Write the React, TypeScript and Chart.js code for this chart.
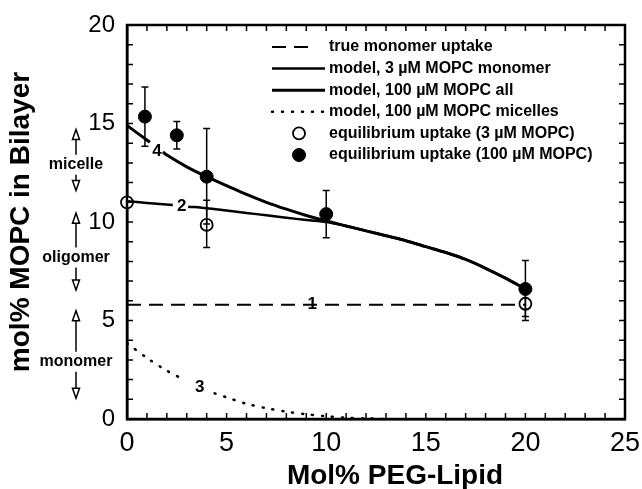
import React, { useEffect, useRef } from "react";
import { Chart, registerables } from "chart.js";

Chart.register(...registerables);

const FONT = "'Liberation Sans', Arial, Helvetica, sans-serif";

// ---- axis ticks / titles ----
const xTickValues = [0, 5, 10, 15, 20, 25];
const yTickValues = [0, 5, 10, 15, 20];
const xTitle = "Mol% PEG-Lipid";
const yTitle = "mol% MOPC in Bilayer";

// ---- curve 1: true monomer uptake (dashed) ----
const line1X = [0, 20];
const line1Y = [5.8, 5.8];

// ---- curve 2: model, 3 uM MOPC monomer ----
const line2X = [0, 1, 2.3, 2.7, 3.07, 4, 5, 6, 7, 8, 9, 10, 11, 12, 13, 14, 15, 16, 17, 18, 19, 20];
const line2Y = [11.05, 10.97, 10.86, null, 10.78, 10.7, 10.58, 10.46, 10.34, 10.22, 10.1, 10.0, 9.8, 9.55, 9.3, 9.05, 8.75, 8.45, 8.1, 7.65, 7.15, 6.6];

// ---- curve 4: model, 100 uM MOPC all ----
const line4X = [0, 1.15, 1.5, 1.8, 2, 3, 4, 5, 6, 7, 8, 9, 10, 11, 12, 13, 14, 15, 16, 17, 18, 19, 20];
const line4Y = [14.9, 14.05, null, 13.55, 13.4, 12.8, 12.3, 11.85, 11.4, 11.0, 10.65, 10.33, 10.05, 9.8, 9.55, 9.3, 9.05, 8.75, 8.45, 8.1, 7.65, 7.15, 6.6];

// ---- curve 3: model, 100 uM MOPC micelles (dotted) ----
const line3X = [0, 1, 2, 2.95, 3.6, 4.4, 5, 6, 7, 8, 9, 10, 11, 12, 13];
const line3Y = [3.85, 3.1, 2.45, 1.95, null, 1.3, 1.1, 0.77, 0.55, 0.37, 0.24, 0.14, 0.07, 0.03, 0];

// ---- equilibrium uptake (3 uM MOPC), open circles ----
const openX = [0, 4, 20];
const openY = [11.0, 9.85, 5.85];
const openLo = [11.0, 8.7, 5.0];
const openHi = [11.0, 11.1, 6.7];

// ---- equilibrium uptake (100 uM MOPC), filled circles ----
const filledX = [0.9, 2.5, 4, 10, 20];
const filledY = [15.35, 14.4, 12.3, 10.4, 6.6];
const filledLo = [13.85, 13.7, 9.9, 9.2, 5.2];
const filledHi = [16.85, 15.1, 14.75, 11.6, 8.05];

// ---- legend labels ----
const legendLabels = [
  "true monomer uptake",
  "model, 3 \u00b5M MOPC monomer",
  "model, 100 \u00b5M MOPC all",
  "model, 100 \u00b5M MOPC micelles",
  "equilibrium uptake (3 \u00b5M MOPC)",
  "equilibrium uptake (100 \u00b5M MOPC)",
];

// ---- curve number labels ----
const curveLabelText = ["1", "2", "3", "4"];
const curveLabelX = [9.3, 2.75, 3.65, 1.5];
const curveLabelY = [5.8, 10.8, 1.6, 13.6];

// ---- aggregation-state ranges on the left ----
const regionNames = ["micelle", "oligomer", "monomer"];
const regionTop = [14.7, 10.45, 5.5];
const regionBottom = [11.6, 6.55, 1.05];
const regionTextY = [12.9, 8.2, 2.9];

const pts = (xs: number[], ys: (number | null)[]) => xs.map((x, i) => ({ x, y: ys[i] }));

const decorPlugin = {
  id: "decor",
  afterDatasetsDraw(chart: any) {
    const ctx = chart.ctx;
    const xs = chart.scales.x;
    const ys = chart.scales.y;
    const area = chart.chartArea;
    ctx.save();
    ctx.strokeStyle = "#000";
    ctx.fillStyle = "#000";

    // error bars
    const drawErr = (X: number[], lo: number[], hi: number[]) => {
      ctx.lineWidth = 1.5;
      X.forEach((x, i) => {
        if (lo[i] === hi[i]) return;
        const px = xs.getPixelForValue(x);
        const p1 = ys.getPixelForValue(lo[i]);
        const p2 = ys.getPixelForValue(hi[i]);
        ctx.beginPath();
        ctx.moveTo(px, p1);
        ctx.lineTo(px, p2);
        ctx.moveTo(px - 3.5, p1);
        ctx.lineTo(px + 3.5, p1);
        ctx.moveTo(px - 3.5, p2);
        ctx.lineTo(px + 3.5, p2);
        ctx.stroke();
      });
    };
    drawErr(openX, openLo, openHi);
    drawErr(filledX, filledLo, filledHi);

    // frame
    ctx.lineWidth = 2.5;
    ctx.strokeRect(area.left, area.top, area.right - area.left, area.bottom - area.top);

    // inward ticks
    ctx.lineWidth = 1.5;
    ctx.beginPath();
    for (let v = xs.min; v <= xs.max; v += 1) {
      const px = xs.getPixelForValue(v);
      ctx.moveTo(px, area.bottom);
      ctx.lineTo(px, area.bottom - 6);
      ctx.moveTo(px, area.top);
      ctx.lineTo(px, area.top + 6);
    }
    for (let v = ys.min; v <= ys.max; v += 1) {
      const py = ys.getPixelForValue(v);
      ctx.moveTo(area.left, py);
      ctx.lineTo(area.left + 6, py);
      ctx.moveTo(area.right, py);
      ctx.lineTo(area.right - 6, py);
    }
    ctx.stroke();

    // curve number labels
    ctx.font = `bold 17px ${FONT}`;
    ctx.textAlign = "center";
    ctx.textBaseline = "middle";
    curveLabelText.forEach((t, i) => {
      ctx.fillText(t, xs.getPixelForValue(curveLabelX[i]), ys.getPixelForValue(curveLabelY[i]));
    });

    // legend
    const lx0 = 272;
    const lx1 = 325;
    const textX = 329;
    const rowTop = 47;
    const rowH = 21.6;
    ctx.textAlign = "left";
    ctx.font = `bold 16px ${FONT}`;
    legendLabels.forEach((label, i) => {
      const ds = chart.data.datasets[i];
      const y = rowTop + i * rowH;
      if (ds.showLine) {
        ctx.save();
        ctx.lineWidth = ds.borderWidth;
        ctx.setLineDash(ds.borderDash || []);
        ctx.lineCap = ds.borderCapStyle || "butt";
        ctx.beginPath();
        const end = ds.borderDash && ds.borderDash[0] > 5 ? 308 : lx1;
        ctx.moveTo(lx0, y);
        ctx.lineTo(end, y);
        ctx.stroke();
        ctx.restore();
      } else {
        ctx.save();
        ctx.beginPath();
        ctx.arc(299, y, ds.pointRadius, 0, Math.PI * 2);
        ctx.fillStyle = ds.pointBackgroundColor;
        ctx.fill();
        ctx.lineWidth = ds.pointBorderWidth;
        ctx.stroke();
        ctx.restore();
      }
      ctx.fillText(label, textX, y);
    });

    // aggregation-state annotations (outside plot, left)
    const ax = 76;
    ctx.font = `bold 16px ${FONT}`;
    ctx.textAlign = "center";
    ctx.lineWidth = 1.5;
    regionNames.forEach((name, i) => {
      const top = ys.getPixelForValue(regionTop[i]);
      const bot = ys.getPixelForValue(regionBottom[i]);
      const ty = ys.getPixelForValue(regionTextY[i]);
      ctx.fillStyle = "#000";
      ctx.fillText(name, ax, ty);
      ctx.beginPath();
      ctx.moveTo(ax, top + 10);
      ctx.lineTo(ax, ty - 10);
      ctx.moveTo(ax, ty + 10);
      ctx.lineTo(ax, bot - 10);
      ctx.stroke();
      ctx.fillStyle = "#fff";
      ctx.beginPath();
      ctx.moveTo(ax, top);
      ctx.lineTo(ax - 3.5, top + 10);
      ctx.lineTo(ax + 3.5, top + 10);
      ctx.closePath();
      ctx.fill();
      ctx.stroke();
      ctx.beginPath();
      ctx.moveTo(ax, bot);
      ctx.lineTo(ax - 3.5, bot - 10);
      ctx.lineTo(ax + 3.5, bot - 10);
      ctx.closePath();
      ctx.fill();
      ctx.stroke();
    });

    // x-axis title (slightly right of centre, as in the original)
    ctx.fillStyle = "#000";
    ctx.font = `bold 28px ${FONT}`;
    ctx.textAlign = "center";
    ctx.textBaseline = "middle";
    ctx.fillText(xTitle, (area.left + area.right) / 2 + 19, 476);
    ctx.restore();
  },
};

export default function App() {
  const ref = useRef<HTMLCanvasElement | null>(null);
  useEffect(() => {
    if (!ref.current) return;
    const lineBase = {
      showLine: true,
      pointRadius: 0,
      pointHoverRadius: 0,
      borderColor: "#000",
      backgroundColor: "#000",
      spanGaps: false,
      fill: false,
    };
    const chart = new Chart(ref.current, {
      type: "scatter",
      data: {
        datasets: [
          { ...lineBase, label: legendLabels[0], data: pts(line1X, line1Y), borderWidth: 2, borderDash: [14, 8] },
          { ...lineBase, label: legendLabels[1], data: pts(line2X, line2Y), borderWidth: 2.5, tension: 0.3 },
          { ...lineBase, label: legendLabels[2], data: pts(line4X, line4Y), borderWidth: 3, tension: 0.3 },
          { ...lineBase, label: legendLabels[3], data: pts(line3X, line3Y), borderWidth: 2.5, borderDash: [1, 9], borderCapStyle: "round", tension: 0.3 },
          {
            label: legendLabels[4], data: pts(openX, openY), showLine: false, clip: false,
            pointRadius: 6, pointBorderWidth: 1.8, pointBackgroundColor: "#fff", pointBorderColor: "#000",
          },
          {
            label: legendLabels[5], data: pts(filledX, filledY), showLine: false, clip: false,
            pointRadius: 6.5, pointBorderWidth: 1, pointBackgroundColor: "#000", pointBorderColor: "#000",
          },
        ],
      } as any,
      options: {
        responsive: false,
        animation: false,
        devicePixelRatio: 1,
        layout: { padding: { top: 25, right: 17, left: 0, bottom: 0 } },
        plugins: { legend: { display: false }, tooltip: { enabled: false } },
        scales: {
          x: {
            type: "linear",
            min: 0,
            max: 25,
            afterBuildTicks: (s: any) => { s.ticks = xTickValues.map((v) => ({ value: v })); },
            afterFit: (s: any) => { s.height = 70; s.paddingLeft = 0; s.paddingRight = 0; },
            grid: { display: false, drawTicks: false },
            border: { display: true, color: "#000", width: 2.5 },
            ticks: { color: "#000", font: { family: FONT, size: 27 }, padding: 8, maxRotation: 0 },
            title: { display: false, text: xTitle },
          },
          y: {
            type: "linear",
            min: 0,
            max: 20,
            afterBuildTicks: (s: any) => { s.ticks = yTickValues.map((v) => ({ value: v })); },
            afterFit: (s: any) => { s.width = 127; s.paddingTop = 0; s.paddingBottom = 0; },
            grid: { display: false, drawTicks: false },
            border: { display: true, color: "#000", width: 2.5 },
            ticks: { color: "#000", font: { family: FONT, size: 24 }, padding: 12 },
            title: {
              display: true,
              text: yTitle,
              color: "#000",
              font: { family: FONT, size: 28, weight: "bold", lineHeight: 1 },
              padding: { top: 7, bottom: 0 },
            },
          },
        },
      } as any,
      plugins: [decorPlugin],
    });
    return () => chart.destroy();
  }, []);
  return (
    <div style={{ position: "fixed", left: 0, top: 0, width: 642, height: 489, background: "#fff" }}>
      <canvas ref={ref} width={642} height={489} style={{ display: "block" }} />
    </div>
  );
}
